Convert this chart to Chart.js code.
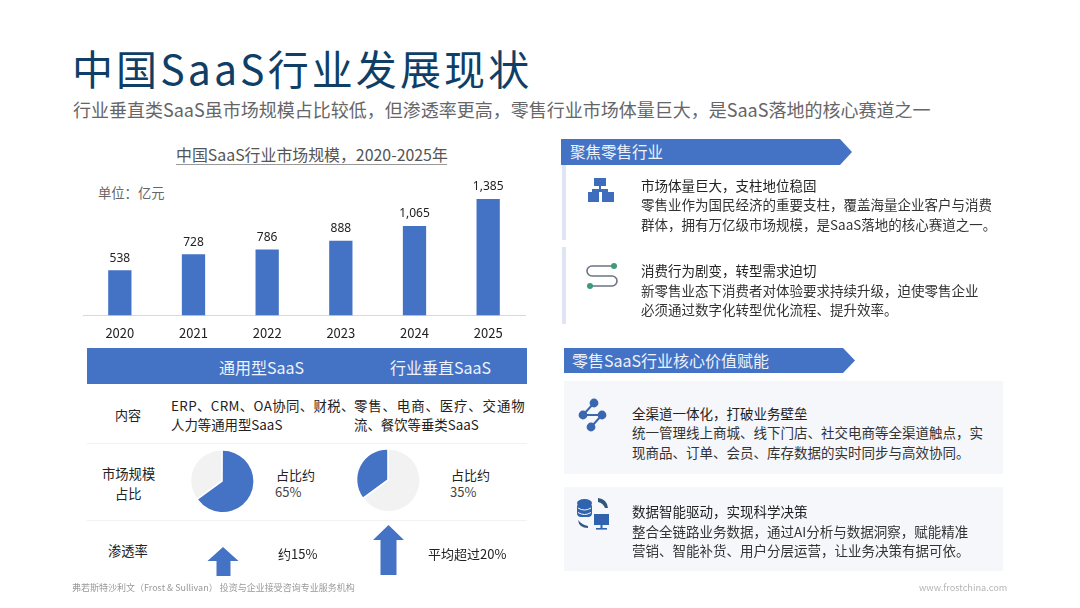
<!DOCTYPE html>
<html lang="zh">
<head>
<meta charset="utf-8">
<title>中国SaaS行业发展现状</title>
<script src="https://cdn.jsdelivr.net/npm/chart.js@4"></script>
<style>
  html, body { margin: 0; padding: 0; background: #fff; }
  body { position: relative; width: 1080px; height: 608px; overflow: hidden; filter: blur(0.35px);
         font-family: "Noto Sans CJK SC", "Noto Sans", sans-serif; color: #222; }
  .t { position: absolute; white-space: nowrap; line-height: 1; }
  .abs { position: absolute; }
  .band { position: absolute; background: #4472c4; color: #eef2fb;
          clip-path: polygon(0 0, calc(100% - 12px) 0, 100% 50%, calc(100% - 12px) 100%, 0 100%); }
  .line { position: absolute; left: 87px; width: 440px; height: 1px; background: #f2f2f2; }
  .stripe { position: absolute; left: 562px; width: 4px; background: #dfe5f2; }
  .card { position: absolute; left: 564px; width: 439px; background: #f5f7fb; }
  canvas { display: block; }
</style>
</head>
<body>

<div class="t" style="left:72px;top:47px;font-size:41px;letter-spacing:3.1px;color:#0f3f66">中国SaaS行业发展现状</div>
<div class="t" style="left:73px;top:100px;font-size:18px;color:#666">行业垂直类SaaS虽市场规模占比较低，但渗透率更高，零售行业市场体量巨大，是SaaS落地的核心赛道之一</div>

<!-- bar chart -->
<div class="t" style="left:176px;top:147px;font-size:15.9px;color:#555">中国SaaS行业市场规模，2020-2025年</div>
<div class="abs" style="left:176px;top:164px;width:271px;height:1px;background:#999"></div>
<div class="t" style="left:98px;top:186px;font-size:13.3px;color:#666">单位：亿元</div>
<div class="abs" style="left:82px;top:170px;width:444px;height:173px"><canvas id="bars"></canvas></div>

<!-- comparison table -->
<div class="abs" style="left:87px;top:348px;width:440px;height:36px;background:#4472c4"></div>
<div class="t" style="left:219px;top:359px;font-size:16px;color:#eef2fb">通用型SaaS</div>
<div class="t" style="left:390px;top:359px;font-size:16px;color:#eef2fb">行业垂直SaaS</div>

<div class="t" style="left:115px;top:408px;font-size:13px">内容</div>
<div class="t" style="left:171px;top:399px;font-size:13.4px;letter-spacing:0.37px">ERP、CRM、OA协同、财税、</div>
<div class="t" style="left:171px;top:418px;font-size:13.4px">人力等通用型SaaS</div>
<div class="t" style="left:354px;top:399px;font-size:13.4px;letter-spacing:0.9px">零售、电商、医疗、交通物</div>
<div class="t" style="left:354px;top:418px;font-size:13.4px">流、餐饮等垂类SaaS</div>
<div class="line" style="top:443px"></div>

<div class="t" style="left:102px;top:467px;font-size:13.3px">市场规模</div>
<div class="t" style="left:115px;top:487px;font-size:13.3px">占比</div>
<div class="abs" style="left:182px;top:441px;width:80px;height:80px"><canvas id="pieGeneral"></canvas></div>
<div class="abs" style="left:348px;top:440px;width:80px;height:80px"><canvas id="pieVertical"></canvas></div>
<div class="t" style="left:276px;top:466px;font-size:13px;line-height:17px">占比约<br><span style="color:#444;margin-left:-1px">65%</span></div>
<div class="t" style="left:451px;top:466px;font-size:13px;line-height:17px">占比约<br><span style="color:#444;margin-left:-1px">35%</span></div>
<div class="line" style="top:520px"></div>

<div class="t" style="left:108px;top:544px;font-size:13.3px">渗透率</div>
<svg class="abs" style="left:0;top:0" width="1080" height="608" fill="#4472c4">
  <polygon points="223,547 238.5,561 230.5,561 230.5,576 216.5,576 216.5,561 207.5,561"/>
  <polygon points="388.5,525 404,540 396.5,540 396.5,575 380.5,575 380.5,540 373,540"/>
</svg>
<div class="t" style="left:278px;top:547px;font-size:13px">约15%</div>
<div class="t" style="left:428px;top:547px;font-size:13px">平均超过20%</div>

<div class="t" style="left:72px;top:583px;font-size:9px;color:#999">弗若斯特沙利文（Frost &amp; Sullivan） 投资与企业接受咨询专业服务机构</div>
<div class="t" style="left:919px;top:583px;font-size:9.2px;color:#b5b5b5">www.frostchina.com</div>

<!-- right column -->
<div class="band" style="left:561px;top:139px;width:291px;height:26px"><span class="t" style="left:9px;top:5px;font-size:15.5px">聚焦零售行业</span></div>
<div class="stripe" style="top:165px;height:75px"></div>
<div class="stripe" style="top:247px;height:77px"></div>

<svg class="abs" style="left:586px;top:176px" width="32" height="28" fill="#3f6dbd" stroke="none">
  <rect x="8" y="2" width="12" height="8"/><rect x="13" y="10" width="2" height="4"/>
  <rect x="6" y="13" width="16" height="3"/>
  <rect x="2" y="16" width="11" height="10"/><rect x="16" y="16" width="12" height="10"/>
</svg>
<svg class="abs" style="left:584px;top:262px" width="40" height="32" fill="none">
  <path d="M30 4 H8 A5 5 0 0 0 8 14 H28 A5 5 0 0 1 28 24 H6" stroke="#6a7482" stroke-width="1.6"/>
  <circle cx="30" cy="4" r="3" fill="#3f9a7c"/><circle cx="6" cy="24" r="3" fill="#3f9a7c"/>
</svg>

<div class="t" style="left:641px;top:179px;font-size:13.5px;color:#222">市场体量巨大，支柱地位稳固</div>
<div class="t" style="left:641px;top:198px;font-size:13.5px;color:#333">零售业作为国民经济的重要支柱，覆盖海量企业客户与消费</div>
<div class="t" style="left:641px;top:218px;font-size:13.5px;color:#333">群体，拥有万亿级市场规模，是SaaS落地的核心赛道之一。</div>
<div class="t" style="left:641px;top:264px;font-size:13.5px;color:#222">消费行为剧变，转型需求迫切</div>
<div class="t" style="left:641px;top:284px;font-size:13.5px;color:#333">新零售业态下消费者对体验要求持续升级，迫使零售企业</div>
<div class="t" style="left:641px;top:303px;font-size:13.5px;color:#333">必须通过数字化转型优化流程、提升效率。</div>

<div class="band" style="left:564px;top:348px;width:291px;height:25px"><span class="t" style="left:8px;top:4px;font-size:16px">零售SaaS行业核心价值赋能</span></div>
<div class="card" style="top:381px;height:93px"></div>
<div class="card" style="top:487px;height:84px"></div>

<svg class="abs" style="left:576px;top:396px" width="36" height="40" stroke="#3a67ad" stroke-width="2" fill="#3a67ad">
  <line x1="18" y1="7" x2="7" y2="19"/><line x1="7" y1="19" x2="26" y2="19"/><line x1="26" y1="19" x2="15" y2="31"/>
  <circle cx="18" cy="7" r="3.4"/><circle cx="7" cy="19" r="3.4"/><circle cx="26" cy="19" r="3.4"/><circle cx="15" cy="31" r="3.4"/>
</svg>
<svg class="abs" style="left:575px;top:497px" width="36" height="36" fill="#2f63ad">
  <ellipse cx="9.5" cy="6" rx="7.5" ry="4"/><rect x="2" y="6" width="15" height="14" rx="4"/>
  <path d="M3 11 Q9.5 15 16 11 M3 15.5 Q9.5 19.5 16 15.5" stroke="#f5f7fb" stroke-width="1" fill="none"/>
  <path d="M23 1 Q32 2 33 11 L30 11 Q28 6 23 5 Z" fill="#33567f"/>
  <path d="M3 23 Q7 28 13 29 L13 31 Q4 31 3 23 Z" fill="#33567f"/>
  <rect x="19" y="17" width="15" height="11"/><rect x="25.5" y="28" width="2" height="4"/><rect x="21" y="31" width="11" height="1.6"/>
</svg>

<div class="t" style="left:632px;top:407px;font-size:13.5px;color:#222">全渠道一体化，打破业务壁垒</div>
<div class="t" style="left:632px;top:426px;font-size:13.5px;color:#333">统一管理线上商城、线下门店、社交电商等全渠道触点，实</div>
<div class="t" style="left:632px;top:446px;font-size:13.5px;color:#333">现商品、订单、会员、库存数据的实时同步与高效协同。</div>
<div class="t" style="left:632px;top:505px;font-size:13.5px;color:#222">数据智能驱动，实现科学决策</div>
<div class="t" style="left:632px;top:525px;font-size:13.5px;color:#333">整合全链路业务数据，通过AI分析与数据洞察，赋能精准</div>
<div class="t" style="left:632px;top:544px;font-size:13.5px;color:#333">营销、智能补货、用户分层运营，让业务决策有据可依。</div>

<script>
const years = ['2020', '2021', '2022', '2023', '2024', '2025']
const marketSize = [538, 728, 786, 888, 1065, 1385]
const generalShare = [65, 35]
const verticalShare = [65, 35]

const blue = '#4472c4'
const grey = '#f2f2f2'

Chart.defaults.font.family = '"Noto Sans CJK SC", "Noto Sans", sans-serif'
Chart.defaults.animation = false

// value labels above the bars
const barLabels = {
  id: 'barLabels',
  afterDatasetsDraw(chart) {
    const ctx = chart.ctx
    ctx.save()
    ctx.font = '12px "Noto Sans", sans-serif'
    ctx.fillStyle = '#222'
    ctx.textAlign = 'center'
    ctx.textBaseline = 'bottom'
    chart.getDatasetMeta(0).data.forEach((bar, i) => {
      ctx.fillText(marketSize[i].toLocaleString('en-US'), bar.x, bar.y - 6)
    })
    ctx.restore()
  },
}

new Chart(document.getElementById('bars'), {
  type: 'bar',
  data: {
    labels: years,
    datasets: [{ data: marketSize, backgroundColor: blue, barPercentage: 0.316, categoryPercentage: 1 }],
  },
  options: {
    responsive: true,
    maintainAspectRatio: false,
    plugins: { legend: { display: false }, tooltip: { enabled: false } },
    layout: { padding: { top: 11, left: 1, right: 1 } },
    scales: {
      y: { display: false, min: 0, max: 1600 },
      x: {
        grid: { display: false },
        border: { color: '#d9d9d9' },
        ticks: { color: '#222', font: { size: 13 }, padding: 2, maxRotation: 0 },
      },
    },
  },
  plugins: [barLabels],
})

function sharePie(id, values, colors) {
  new Chart(document.getElementById(id), {
    type: 'pie',
    data: {
      datasets: [{ data: values, backgroundColor: colors, borderWidth: 0, offset: 3.5 }],
    },
    options: {
      responsive: true,
      maintainAspectRatio: false,
      layout: { padding: 8.5 },
      plugins: { legend: { display: false }, tooltip: { enabled: false } },
    },
  })
}

sharePie('pieGeneral', generalShare, [blue, grey])
sharePie('pieVertical', verticalShare, [grey, blue])
</script>
</body>
</html>
